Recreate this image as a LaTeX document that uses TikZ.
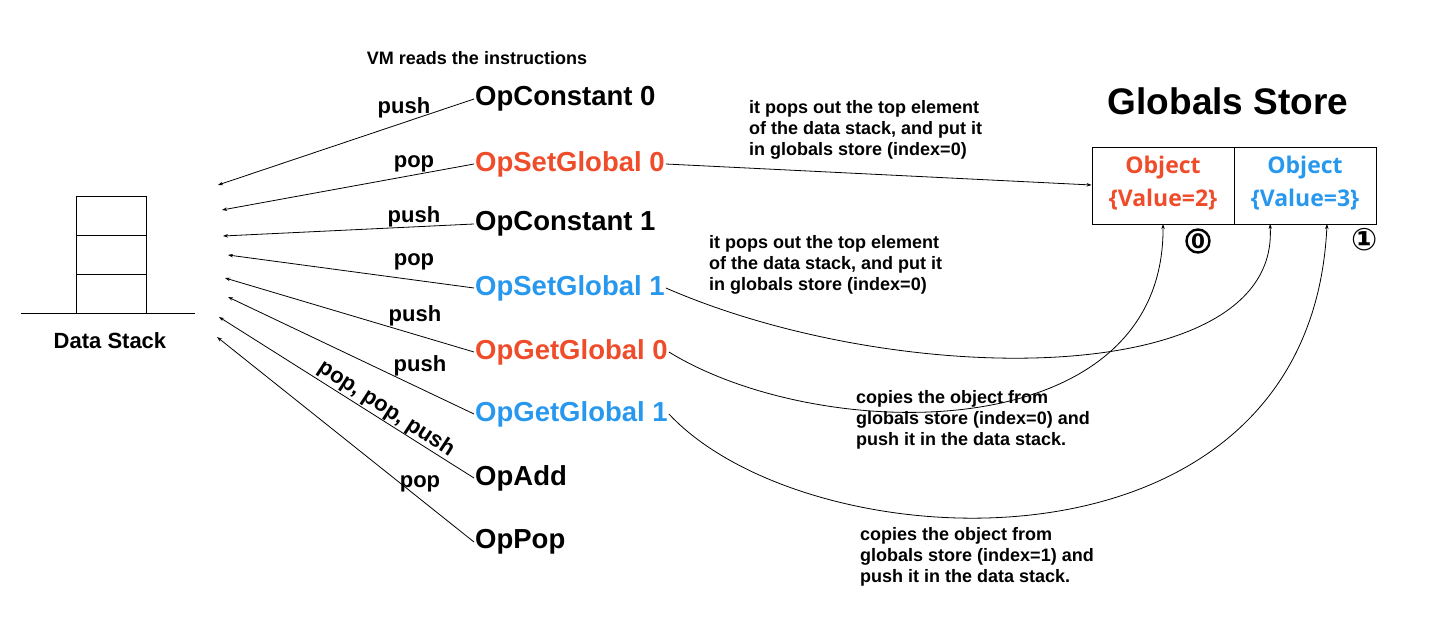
\documentclass[tikz,border=0pt]{standalone}
\usepackage{fontspec}
\setmainfont{Liberation Sans}
\newfontfamily\objfont{Open Sans}
\newfontfamily\symfont{DejaVu Sans}
\usetikzlibrary{arrows.meta}
\definecolor{opred}{RGB}{238,76,42}
\definecolor{opblue}{RGB}{40,152,238}
\tikzset{
  instr/.style={anchor=west, inner sep=1pt, font=\fontsize{27.5}{30}\selectfont\bfseries},
  oplabel/.style={inner sep=0pt, font=\fontsize{22}{24}\selectfont\bfseries},
  note/.style={anchor=north west, inner sep=0pt, align=left, font=\fontsize{18}{21}\selectfont\bfseries},
  conn/.style={line width=0.8pt, -{Stealth[length=5pt,width=3.5pt]}},
  objtext/.style={align=center, inner sep=0pt, font=\objfont\fontsize{23}{33}\selectfont\bfseries},
  circnum/.style={draw, circle, line width=2.4pt, minimum size=23pt, inner sep=0pt, font=\symfont\fontsize{20}{22}\selectfont\bfseries},
}
\begin{document}
\begin{tikzpicture}[x=1pt,y=-1pt]
\useasboundingbox (0,0) rectangle (1440,617);
% data stack
\draw[line width=0.9pt] (76,196) rectangle (146,313);
\draw[line width=0.9pt] (76,235) -- (146,235);
\draw[line width=0.9pt] (76,274) -- (146,274);
\draw[line width=0.9pt] (21,313) -- (195,313);
\node[inner sep=0pt, font=\fontsize{22}{24}\selectfont\bfseries] (ds) at (110,341) {Data Stack};

\node[inner sep=0pt, font=\fontsize{18}{20}\selectfont\bfseries] (vm) at (477,58) {VM reads the instructions};

% instructions
\node[instr] (i1) at (474,99) {OpConstant 0};
\node[instr, text=opred] (i2) at (474,164) {OpSetGlobal 0};
\node[instr] (i3) at (474,224) {OpConstant 1};
\node[instr, text=opblue] (i4) at (474,288) {OpSetGlobal 1};
\node[instr, text=opred] (i5) at (474,352) {OpGetGlobal 0};
\node[instr, text=opblue] (i6) at (474,414) {OpGetGlobal 1};
\node[instr] (i7) at (474,478) {OpAdd};
\node[instr] (i8) at (474,542) {OpPop};

% arrow tips at the stack
\coordinate (t1) at (218,185);
\coordinate (t2) at (222,210);
\coordinate (t3) at (223,236);
\coordinate (t4) at (228,255);
\coordinate (t5) at (225,278);
\coordinate (t6) at (228,297);
\coordinate (t7) at (219,317);
\coordinate (t8) at (217,337);

\draw[conn] (i1.west) -- (t1);
\draw[conn] (i2.west) -- (t2);
\draw[conn] (i3.west) -- (t3);
\draw[conn] (i4.west) -- (t4);
\draw[conn] (i5.west) -- (t5);
\draw[conn] (i6.west) -- (t6);
\draw[conn] (i7.west) -- (t7);
\draw[conn] (i8.west) -- (t8);

% op labels
\node[oplabel] (l1) at (404,108) {push};
\node[oplabel] (l2) at (414,164) {pop};
\node[oplabel] (l3) at (414,217) {push};
\node[oplabel] (l4) at (414,262) {pop};
\node[oplabel] (l5) at (415,316) {push};
\node[oplabel] (l6) at (420,366) {push};
\node[oplabel, rotate=-33] (l7) at (386,409) {pop, pop, push};
\node[oplabel] (l8) at (420,484) {pop};

% globals store
\node[inner sep=0pt, font=\fontsize{37}{40}\selectfont\bfseries] (gs) at (1228,101) {Globals Store};
\node[draw, line width=0.9pt, minimum width=142pt, minimum height=77pt, inner sep=0pt] (g0) at (1163,185.5) {};
\node[draw, line width=0.9pt, minimum width=142pt, minimum height=77pt, inner sep=0pt] (g1) at (1305,185.5) {};
\node[objtext, text=opred] (o0) at (1163,183) {Object\\\{Value=2\}};
\node[objtext, text=opblue] (o1) at (1305,183) {Object\\\{Value=3\}};
\node[circnum] (c0) at (1198,241) {0};
\node[inner sep=0pt, font=\symfont\fontsize{31}{33}\selectfont\bfseries] (c1) at (1365,240) {①};

\coordinate (g0b) at (1163,224);
\coordinate (g1b) at (1270,224);
\coordinate (g1c) at (1327,224);

% right-side connectors
\draw[conn] (i2.east) -- (g0.west |- 0,185);
\draw[conn] (i4.east) .. controls (900,390) and (1280,390) .. (g1b);
\draw[conn] (i5.east) .. controls (820,445) and (1165,450) .. (g0b);
\draw[conn] (i6.east) .. controls (810,565) and (1310,590) .. (g1c);

% notes
\node[note] (n1) at (749,100) {it pops out the top element\\of the data stack, and put it\\in globals store (index=0)};
\node[note] (n2) at (709,235) {it pops out the top element\\of the data stack, and put it\\in globals store (index=0)};
\node[note] (n3) at (856,390) {copies the object from\\globals store (index=0) and\\push it in the data stack.};
\node[note] (n4) at (860,527) {copies the object from\\globals store (index=1) and\\push it in the data stack.};
\end{tikzpicture}
\end{document}
